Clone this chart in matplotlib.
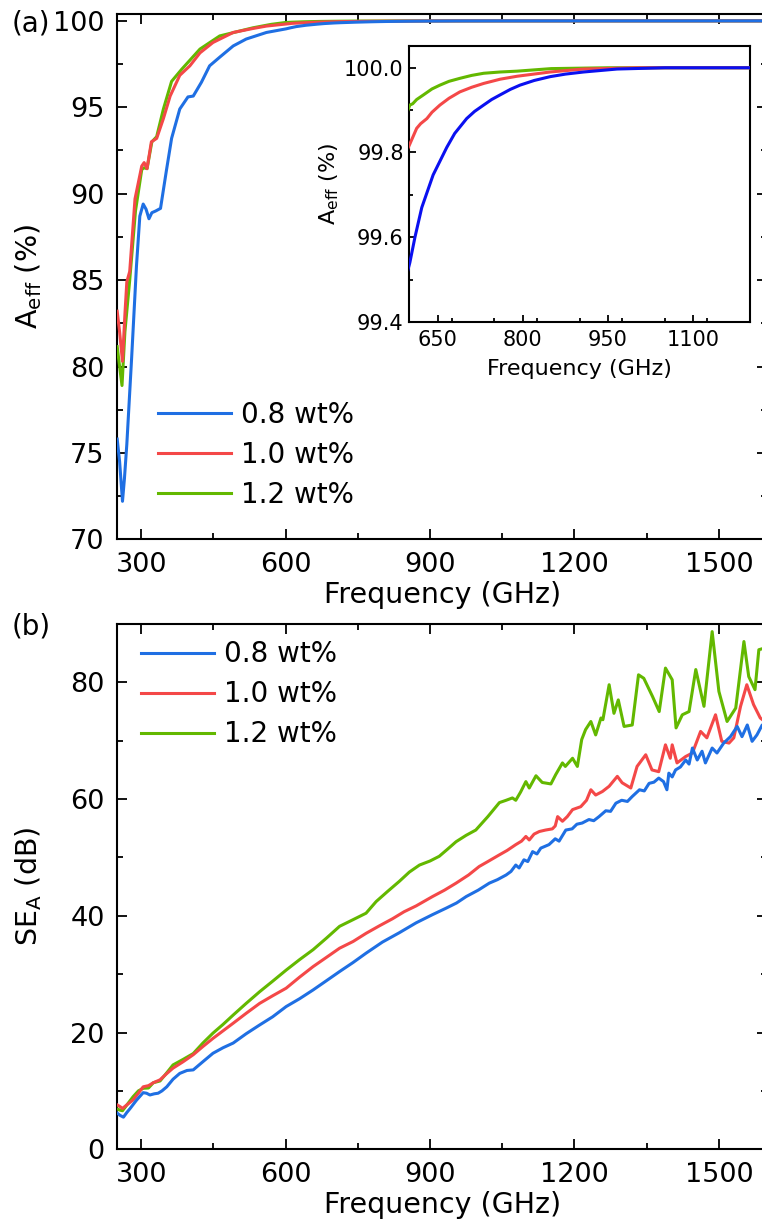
import matplotlib
matplotlib.use("Agg")
import matplotlib.pyplot as plt
from matplotlib.ticker import MultipleLocator

plt.rcParams['font.family'] = ['DejaVu Sans']
plt.rcParams['mathtext.fontset'] = 'dejavusans'

labels = ['0.8 wt%', '1.0 wt%', '1.2 wt%']
colors = ['#1f6fe3', '#f44848', '#63b800']
inset_colors = ['#0a10f0', '#f44848', '#63b800']

# (a) absorption efficiency A_eff (%)
fa_08 = [250, 255, 261, 265, 270, 280, 290, 297, 304, 310, 316, 322, 330, 340, 352, 363, 380, 397,
         408, 425, 442, 463, 491, 518, 560, 601, 610, 622, 642, 666, 680, 701, 715, 731, 745, 760,
         778, 795, 820, 848, 875, 907, 966, 1050, 1200, 1400, 1600]
aeff_08 = [75.8, 74.5, 72.2, 73.5, 75.5, 80.5, 85.8, 88.7, 89.4, 89.1, 88.55, 88.9, 89.0, 89.15, 91.3,
           93.2, 94.9, 95.6, 95.65, 96.45, 97.4, 97.9, 98.55, 98.95, 99.33, 99.54, 99.60, 99.67, 99.747,
           99.812, 99.845, 99.88, 99.897, 99.912, 99.925, 99.936, 99.949, 99.959, 99.970, 99.979,
           99.985, 99.99, 99.997, 100.0, 100.0, 100.0, 100.0]

fa_10 = [250, 255, 261, 266, 270, 276, 287, 301, 306, 312, 321, 332, 346, 360, 380, 401, 422, 449,
         491, 532, 560, 601, 613, 620, 631, 640, 654, 670, 689, 710, 731, 760, 790, 848, 907, 1000,
         1200, 1400, 1600]
aeff_10 = [83.2, 82.0, 80.3, 83.0, 84.9, 85.5, 89.7, 91.6, 91.8, 91.45, 93.0, 93.2, 94.35, 95.65,
           96.85, 97.4, 98.15, 98.75, 99.33, 99.56, 99.70, 99.82, 99.857, 99.868, 99.88, 99.895,
           99.912, 99.928, 99.943, 99.954, 99.963, 99.973, 99.98, 99.99, 99.997, 100.0, 100.0, 100.0,
           100.0]

fa_12 = [250, 255, 260, 266, 276, 288, 301, 306, 312, 322, 332, 346, 363, 384, 422, 463, 532, 570,
         601, 606, 613, 625, 640, 654, 670, 689, 710, 731, 760, 790, 850, 950, 1200, 1400, 1600]
aeff_12 = [81.15, 80.0, 78.9, 82.0, 85.0, 89.0, 91.4, 91.5, 91.45, 93.0, 93.3, 94.9, 96.5, 97.2,
           98.37, 99.13, 99.6, 99.80, 99.912, 99.915, 99.925, 99.936, 99.950, 99.959, 99.968, 99.975,
           99.982, 99.987, 99.990, 99.992, 99.998, 100.0, 100.0, 100.0, 100.0]

# (b) SE_A (dB)
fb_08 = [250, 256, 263, 270, 277, 290, 304, 311, 318, 327, 335, 343, 353, 366, 380, 395, 408, 428,
         449, 470, 491, 518, 546, 573, 601, 629, 657, 685, 712, 740, 767, 801, 836, 871, 905, 933,
         955, 975, 1000, 1023, 1040, 1058, 1068, 1078, 1085, 1095, 1103, 1113, 1122, 1130, 1147,
         1160, 1168, 1182, 1195, 1205, 1216, 1230, 1240, 1251, 1265, 1275, 1286, 1298, 1310, 1320,
         1335, 1345, 1355, 1365, 1375, 1385, 1392, 1396, 1403, 1410, 1420, 1431, 1438, 1445, 1455,
         1465, 1472, 1486, 1496, 1510, 1524, 1538, 1548, 1559, 1569, 1579, 1590, 1600]
se_08 = [6.2, 5.8, 5.5, 6.3, 7.0, 8.4, 9.7, 9.6, 9.3, 9.5, 9.6, 10.0, 10.7, 12.0, 13.0, 13.5, 13.6,
         15.0, 16.45, 17.4, 18.2, 19.8, 21.3, 22.7, 24.45, 25.8, 27.3, 28.9, 30.45, 32.0, 33.6, 35.5,
         37.1, 38.8, 40.2, 41.3, 42.2, 43.3, 44.4, 45.6, 46.2, 47.0, 47.6, 48.7, 48.2, 49.6, 49.3,
         51.0, 50.6, 51.6, 52.2, 53.2, 52.8, 54.7, 54.9, 55.7, 55.9, 56.5, 56.3, 57.0, 58.0, 57.9,
         59.3, 59.8, 59.6, 60.45, 61.6, 61.4, 62.7, 62.9, 63.6, 63.0, 61.6, 64.45, 63.8, 65.0, 65.5,
         66.7, 66.0, 68.75, 66.7, 68.2, 66.2, 68.75, 67.9, 69.6, 70.7, 72.45, 70.7, 72.7, 69.9, 71.0,
         72.7, 73.0]

fb_10 = [250, 256, 261, 270, 283, 294, 304, 315, 325, 339, 352, 366, 387, 408, 428, 449, 470, 491,
         518, 546, 573, 601, 629, 657, 685, 712, 740, 767, 795, 822, 846, 871, 905, 930, 954, 980,
         1002, 1020, 1044, 1060, 1078, 1090, 1099, 1106, 1116, 1127, 1140, 1154, 1160, 1165, 1175,
         1185, 1196, 1213, 1225, 1234, 1244, 1258, 1272, 1289, 1299, 1317, 1330, 1348, 1361, 1375,
         1389, 1399, 1403, 1413, 1431, 1445, 1462, 1475, 1493, 1506, 1521, 1531, 1545, 1558, 1572,
         1586, 1600]
se_10 = [7.6, 7.3, 7.0, 7.6, 8.45, 9.6, 10.7, 10.9, 11.4, 11.9, 12.9, 13.9, 15.0, 16.2, 17.6, 19.0,
         20.3, 21.6, 23.3, 25.0, 26.3, 27.6, 29.5, 31.3, 32.9, 34.45, 35.6, 37.0, 38.3, 39.5, 40.7,
         41.7, 43.3, 44.4, 45.6, 47.0, 48.45, 49.3, 50.45, 51.2, 52.2, 52.8, 53.6, 53.0, 54.0, 54.45,
         54.7, 54.9, 55.4, 57.0, 56.2, 57.0, 58.2, 58.7, 59.8, 61.6, 60.7, 61.3, 62.2, 63.9, 62.8,
         61.9, 65.6, 67.6, 65.0, 64.7, 69.3, 67.0, 69.3, 66.2, 67.3, 67.9, 71.6, 70.5, 74.45, 69.9,
         69.6, 70.5, 75.9, 79.6, 76.2, 73.9, 73.0]

fb_12 = [250, 256, 261, 272, 283, 294, 304, 315, 325, 339, 352, 366, 387, 408, 428, 449, 470, 491,
         518, 546, 573, 601, 629, 657, 685, 712, 739, 767, 788, 812, 836, 857, 878, 900, 919, 936,
         954, 975, 995, 1020, 1044, 1058, 1071, 1078, 1088, 1099, 1106, 1120, 1133, 1151, 1161,
         1175, 1181, 1196, 1206, 1215, 1223, 1234, 1244, 1255, 1259, 1272, 1282, 1291, 1303, 1320,
         1333, 1344, 1362, 1376, 1389, 1403, 1411, 1424, 1438, 1452, 1469, 1486, 1500, 1517, 1535,
         1552, 1562, 1575, 1583, 1600]
se_12 = [6.9, 6.7, 6.6, 7.8, 9.0, 10.0, 10.45, 10.5, 11.4, 11.7, 13.0, 14.45, 15.4, 16.4, 18.2, 19.9,
         21.4, 23.0, 25.0, 27.0, 28.8, 30.7, 32.5, 34.2, 36.2, 38.2, 39.3, 40.45, 42.45, 44.2, 45.9,
         47.5, 48.7, 49.4, 50.2, 51.4, 52.7, 53.8, 54.7, 57.0, 59.4, 59.8, 60.2, 59.8, 61.2, 63.0,
         61.9, 64.0, 62.85, 62.6, 64.2, 66.2, 65.6, 67.0, 65.6, 70.2, 71.9, 73.3, 71.0, 73.9, 73.6,
         79.6, 74.7, 77.0, 72.45, 72.7, 81.3, 80.7, 77.6, 75.0, 82.45, 80.45, 72.2, 74.45, 75.0,
         82.2, 75.9, 88.7, 78.45, 73.3, 75.6, 87.0, 81.0, 78.75, 85.6, 86.0]


def style_axis(ax, fs, major_len, minor_len, pad, both_sides=True):
    ax.tick_params(which='both', direction='in', top=both_sides, right=both_sides,
                   labelsize=fs, pad=pad, width=1.3)
    ax.tick_params(which='major', length=major_len)
    ax.tick_params(which='minor', length=minor_len)
    for s in ax.spines.values():
        s.set_linewidth(1.5)


fig = plt.figure(figsize=(7.62, 12.26), dpi=100)

# ---- panel (a)
ax1 = fig.add_axes([0.1538, 0.5601, 0.8528, 0.4285])
ax1.plot(fa_12, aeff_12, color=colors[2], lw=2.2, zorder=3)
ax1.plot(fa_10, aeff_10, color=colors[1], lw=2.2, zorder=4)
ax1.plot(fa_08, aeff_08, color=colors[0], lw=2.2, zorder=5)
ax1.set_xlim(250, 1600)
ax1.set_ylim(70, 100.4)
ax1.set_xticks([300, 600, 900, 1200, 1500])
ax1.xaxis.set_minor_locator(MultipleLocator(150))
ax1.yaxis.set_major_locator(MultipleLocator(5))
ax1.yaxis.set_minor_locator(MultipleLocator(2.5))
style_axis(ax1, 19.5, 7, 4, 9)
ax1.set_xlabel('Frequency (GHz)', fontsize=20.5)
ax1.set_ylabel(r'A$_{\mathrm{eff}}$ (%)', fontsize=20.5)
ax1.xaxis.set_label_coords(0.5, -0.079)
ax1.yaxis.set_label_coords(-0.112, 0.5)
h = [plt.Line2D([], [], color=c, lw=2.2) for c in colors]
ax1.legend(h, labels, loc='upper left', bbox_to_anchor=(0.046, 0.285), frameon=False,
           fontsize=20, handlelength=2.63, handletextpad=0.35, labelspacing=0.43,
           borderaxespad=0)
fig.text(0.015, 0.981, '(a)', fontsize=20, ha='left', va='center')

# inset
axi = fig.add_axes([0.5371, 0.7374, 0.4472, 0.2253])
axi.plot(fa_12, aeff_12, color=inset_colors[2], lw=2.2, zorder=3)
axi.plot(fa_10, aeff_10, color=inset_colors[1], lw=2.2, zorder=4)
axi.plot(fa_08, aeff_08, color=inset_colors[0], lw=2.2, zorder=5)
axi.set_xlim(600, 1200)
axi.set_ylim(99.4, 100.052)
axi.set_xticks([650, 800, 950, 1100])
axi.xaxis.set_minor_locator(MultipleLocator(75))
axi.set_yticks([99.4, 99.6, 99.8, 100.0])
axi.set_yticklabels(['99.4', '99.6', '99.8', '100.0'])
axi.yaxis.set_minor_locator(MultipleLocator(0.1))
style_axis(axi, 15, 5, 3, 4, both_sides=False)
axi.tick_params(axis='x', pad=6)
axi.set_xlabel('Frequency (GHz)', fontsize=16, labelpad=6)
axi.set_ylabel(r'A$_{\mathrm{eff}}$ (%)', fontsize=16, labelpad=2)

# ---- panel (b)
ax2 = fig.add_axes([0.1538, 0.0626, 0.8528, 0.4284])
ax2.plot(fb_12, se_12, color=colors[2], lw=2.2, zorder=3)
ax2.plot(fb_10, se_10, color=colors[1], lw=2.2, zorder=4)
ax2.plot(fb_08, se_08, color=colors[0], lw=2.2, zorder=5)
ax2.set_xlim(250, 1600)
ax2.set_ylim(0, 90)
ax2.set_xticks([300, 600, 900, 1200, 1500])
ax2.xaxis.set_minor_locator(MultipleLocator(150))
ax2.yaxis.set_major_locator(MultipleLocator(20))
ax2.yaxis.set_minor_locator(MultipleLocator(10))
style_axis(ax2, 19.5, 7, 4, 9)
ax2.set_xlabel('Frequency (GHz)', fontsize=20.5)
ax2.set_ylabel(r'SE$_{\mathrm{A}}$ (dB)', fontsize=20.5)
ax2.xaxis.set_label_coords(0.5, -0.079)
ax2.yaxis.set_label_coords(-0.112, 0.5)
ax2.legend(h, labels, loc='upper left', bbox_to_anchor=(0.02, 0.99), frameon=False,
           fontsize=20, handlelength=2.63, handletextpad=0.35, labelspacing=0.43,
           borderaxespad=0)
fig.text(0.015, 0.4886, '(b)', fontsize=20, ha='left', va='center')

fig.savefig('out.png', dpi=100)
